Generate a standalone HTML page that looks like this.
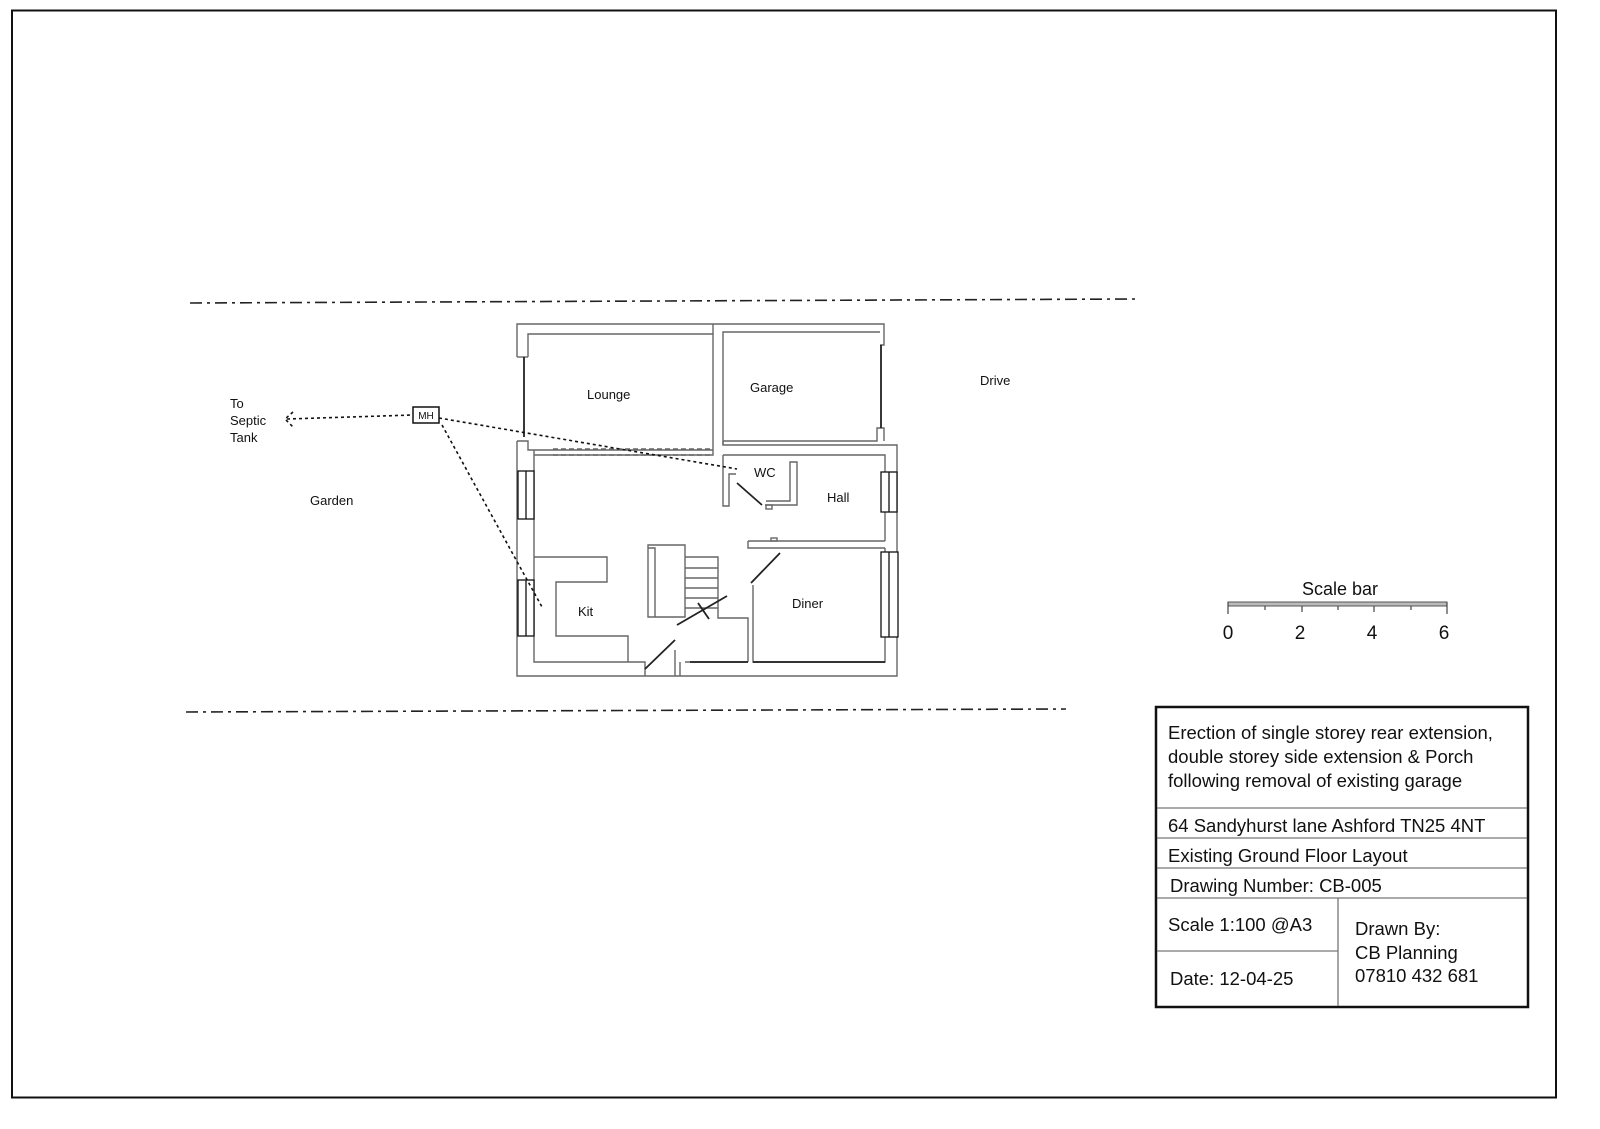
<!DOCTYPE html>
<html><head><meta charset="utf-8"><style>
html,body{margin:0;padding:0;background:#fff;}
svg{display:block;}
text{font-family:"Liberation Sans",sans-serif;fill:#111;}
</style></head><body>
<svg width="1600" height="1129" viewBox="0 0 1600 1129" xmlns="http://www.w3.org/2000/svg">
<rect x="0" y="0" width="1600" height="1129" fill="#fff"/>
<!-- page border -->
<rect x="12" y="10.5" width="1544" height="1087" fill="none" stroke="#111" stroke-width="2"/>

<!-- boundary lines -->
<line x1="190" y1="303" x2="1135" y2="299" stroke="#222" stroke-width="1.6" stroke-dasharray="12 5 3 5"/>
<line x1="186" y1="712" x2="1066" y2="709" stroke="#222" stroke-width="1.6" stroke-dasharray="12 5 3 5"/>

<g fill="none" stroke="#666" stroke-width="1.4">
<!-- lounge / garage block -->
<polyline points="517,357 517,324 884,324 884,345 880,345"/>
<polyline points="528,357 528,334 713,334 713,445"/>
<line x1="517" y1="357" x2="528" y2="357"/>
<polyline points="723,445 723,332 880,332"/>
<line x1="713" y1="324" x2="713" y2="334"/>
<polyline points="723,441 877,441 877,428 884,428 884,441"/>
<!-- main lower block outer -->
<polyline points="517,441 528,441 528,450 713,450"/>
<polyline points="723,441 723,445 897,445 897,676 517,676 517,441"/>
<!-- inner -->
<polyline points="534,455 534,662 628,662"/>
<polyline points="534,455 713,455 713,445"/>
<line x1="534" y1="450" x2="534" y2="455"/>
<polyline points="723,455 885,455 885,541"/>
<polyline points="885,548 885,662 753,662 753,585"/>
<!-- dashed ceiling lines -->
<line x1="553" y1="449" x2="713" y2="449" stroke-dasharray="5 3"/>
<line x1="553" y1="455" x2="713" y2="455" stroke-dasharray="5 3"/>
<!-- WC -->
<polyline points="723,455 723,506 729,506 729,474 736,474"/>
<polyline points="765,505 797,505 797,462 790,462 790,501 766,501"/>
<rect x="766" y="505" width="6" height="4"/>
<!-- hall / diner wall -->
<polyline points="748,541 748,548 885,548"/>
<line x1="748" y1="541" x2="885" y2="541"/>
<rect x="771" y="538" width="6" height="3"/>
<!-- stairs -->
<polyline points="648,548 648,545 685,545 685,617 648,617 648,548 655,548 655,617"/>
<polyline points="685,557 718,557 718,618 748,618 748,662"/>
<line x1="685" y1="568" x2="718" y2="568"/>
<line x1="685" y1="578" x2="718" y2="578"/>
<line x1="685" y1="588" x2="718" y2="588"/>
<line x1="685" y1="598" x2="718" y2="598"/>
<line x1="685" y1="608" x2="718" y2="608"/>
<polyline points="680,662 680,676"/>
<polyline points="685,662 748,662"/>
<!-- kitchen counter -->
<polyline points="534,557 607,557 607,582 556,582 556,636 628,636 628,662"/>
<polyline points="628,662 645,662 645,676"/>
<line x1="675" y1="650" x2="675" y2="676"/>
</g>
<!-- darker bits -->
<g stroke="#222" stroke-width="1.8" fill="none">
<line x1="524" y1="357" x2="524" y2="437"/>
<line x1="881" y1="345" x2="881" y2="428"/>
<line x1="690" y1="662" x2="748" y2="662"/>
<line x1="753" y1="662" x2="885" y2="662"/>
<line x1="645" y1="669" x2="675" y2="640"/>
<line x1="677" y1="625" x2="727" y2="596"/>
<line x1="698" y1="603" x2="709" y2="619"/>
<line x1="751" y1="583" x2="780" y2="553"/>
<line x1="737" y1="483" x2="762" y2="505"/>
</g>
<!-- windows -->
<g fill="#fff" stroke="#111" stroke-width="1.3">
<rect x="518" y="471" width="16" height="48"/><line x1="526" y1="471" x2="526" y2="519"/>
<rect x="518" y="580" width="16" height="56"/><line x1="526" y1="580" x2="526" y2="636"/>
<rect x="881" y="472" width="16" height="40"/><line x1="889" y1="472" x2="889" y2="512"/>
<rect x="881" y="552" width="17" height="85"/><line x1="889" y1="552" x2="889" y2="637"/>
</g>

<!-- drains -->
<g stroke="#111" stroke-width="1.6" fill="none" stroke-dasharray="3 3">
<line x1="287" y1="419" x2="413" y2="415"/>
<line x1="439" y1="418" x2="737" y2="469"/>
<line x1="442" y1="425" x2="542" y2="607"/>
<polyline points="293,412 285,419 293,427"/>
</g>
<rect x="413" y="407" width="26" height="16" fill="#fff" stroke="#111" stroke-width="1.5"/>
<text x="426" y="419" font-size="10" text-anchor="middle">MH</text>

<!-- labels -->
<g font-size="13">
<text x="230" y="408">To</text>
<text x="230" y="425">Septic</text>
<text x="230" y="442">Tank</text>
<text x="310" y="505">Garden</text>
<text x="587" y="399">Lounge</text>
<text x="750" y="392">Garage</text>
<text x="980" y="385">Drive</text>
<text x="754" y="477">WC</text>
<text x="827" y="502">Hall</text>
<text x="578" y="616">Kit</text>
<text x="792" y="608">Diner</text>
</g>

<!-- scale bar -->
<text x="1340" y="595" font-size="18" text-anchor="middle">Scale bar</text>
<rect x="1228" y="602" width="219" height="4" fill="#bbb" stroke="#555" stroke-width="1"/>
<g stroke="#444" stroke-width="1.2">
<line x1="1228" y1="602" x2="1228" y2="614"/>
<line x1="1265" y1="606" x2="1265" y2="610"/>
<line x1="1302" y1="606" x2="1302" y2="612"/>
<line x1="1338" y1="606" x2="1338" y2="610"/>
<line x1="1374" y1="606" x2="1374" y2="612"/>
<line x1="1411" y1="606" x2="1411" y2="610"/>
<line x1="1447" y1="602" x2="1447" y2="614"/>
</g>
<g font-size="19" text-anchor="middle">
<text x="1228" y="639">0</text><text x="1300" y="639">2</text><text x="1372" y="639">4</text><text x="1444" y="639">6</text>
</g>

<!-- title block -->
<rect x="1156" y="707" width="372" height="300" fill="none" stroke="#111" stroke-width="2.5"/>
<g stroke="#777" stroke-width="1.3">
<line x1="1157" y1="808" x2="1527" y2="808"/>
<line x1="1157" y1="838" x2="1527" y2="838"/>
<line x1="1157" y1="868" x2="1527" y2="868"/>
<line x1="1157" y1="898" x2="1527" y2="898"/>
<line x1="1338" y1="898" x2="1338" y2="1006"/>
<line x1="1157" y1="951" x2="1338" y2="951"/>
</g>
<g font-size="18.5">
<text x="1168" y="739">Erection of single storey rear extension,</text>
<text x="1168" y="763">double storey side extension &amp; Porch</text>
<text x="1168" y="787">following removal of existing garage</text>
<text x="1168" y="832">64 Sandyhurst lane Ashford TN25 4NT</text>
<text x="1168" y="862">Existing Ground Floor Layout</text>
<text x="1170" y="892">Drawing Number: CB-005</text>
<text x="1168" y="931">Scale 1:100 @A3</text>
<text x="1170" y="985">Date: 12-04-25</text>
<text x="1355" y="935">Drawn By:</text>
<text x="1355" y="959">CB Planning</text>
<text x="1355" y="982">07810 432 681</text>
</g>
</svg>
</body></html>
